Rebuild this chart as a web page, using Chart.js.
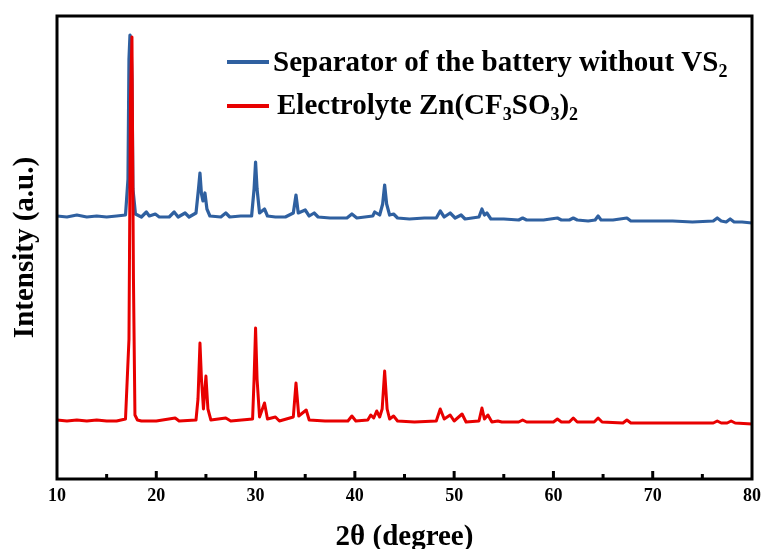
<!DOCTYPE html>
<html>
<head>
<meta charset="utf-8">
<script src="https://cdn.jsdelivr.net/npm/chart.js@4.4.1/dist/chart.umd.min.js"></script>
<style>
  html, body { margin: 0; padding: 0; background: #ffffff; }
  #wrap { width: 761px; height: 549px; position: relative; }
</style>
</head>
<body>
<div id="wrap"><canvas id="c" width="761" height="549"></canvas></div>
<script>
// ---- Data ----
const xTickLabels = [10, 20, 30, 40, 50, 60, 70, 80];
const seriesNames = ["Separator of the battery without VS2", "Electrolyte Zn(CF3SO3)2"];

// Separator of the battery without VS2 (blue, offset upper pattern)
const blueTheta = [10.0, 11.0, 12.0, 13.0, 14.0, 15.0, 16.0, 16.9, 17.15, 17.25, 17.35, 17.45, 17.55, 17.65, 17.9, 18.5, 19.0, 19.3, 19.9, 20.3,
  21.3, 21.8, 22.2, 22.9, 23.3, 24.0, 24.25, 24.4, 24.55, 24.7, 24.9, 25.1, 25.4, 26.5, 27.0, 27.4, 28.5, 29.6, 29.85, 30.0, 30.15,
  30.4, 30.9, 31.2, 32.0, 33.0, 33.8, 34.07, 34.3, 35.0, 35.4, 35.9, 36.3, 37.5, 39.2, 39.7, 40.2, 41.0, 41.8, 42.0, 42.5, 42.8,
  43.0, 43.2, 43.5, 43.9, 44.3, 45.5, 47.0, 48.2, 48.6, 49.0, 49.6, 50.1, 50.7, 51.1, 52.5, 52.8, 53.05, 53.3, 53.7, 55.0, 56.5,
  56.9, 57.3, 59.0, 60.4, 60.8, 61.6, 62.0, 62.4, 63.5, 64.2, 64.5, 64.8, 66.0, 67.4, 67.8, 70.0, 72.0, 74.0, 76.1, 76.5, 76.9,
  77.4, 77.8, 78.2, 79.0, 80.0];
const blueIntensity = [263, 262, 264, 262, 263, 262, 263, 264, 300, 420, 444, 440, 400, 290, 265, 262, 267, 263, 265, 262,
  262, 267, 262, 266, 262, 266, 290, 306, 285, 278, 286, 270, 263, 262, 266, 262, 263, 263, 290, 317, 290,
  266, 270, 263, 262, 262, 266, 284, 266, 269, 263, 266, 262, 261, 261, 265, 261, 262, 263, 267, 264, 275,
  294, 275, 264, 265, 261, 260, 261, 261, 268, 262, 266, 261, 264, 260, 262, 270, 264, 266, 260, 260, 259,
  261, 259, 259, 261, 259, 259, 261, 259, 258, 259, 263, 259, 259, 261, 258, 258, 258, 257, 258, 261, 258,
  257, 260, 257, 257, 256];

// Electrolyte Zn(CF3SO3)2 (red, lower pattern)
const redTheta = [10.0, 11.0, 12.0, 13.0, 14.0, 15.0, 16.0, 16.9, 17.25, 17.4, 17.55, 17.7, 17.85, 18.1, 18.5, 20.0, 21.9, 22.3, 24.0,
  24.2, 24.4, 24.55, 24.75, 25.0, 25.2, 25.5, 27.0, 27.5, 29.7, 29.85, 30.0, 30.15, 30.4, 30.9, 31.2, 32.0, 32.4, 33.8, 34.07,
  34.35, 35.1, 35.4, 37.0, 39.3, 39.7, 40.1, 41.3, 41.6, 41.9, 42.2, 42.5, 42.75, 43.0, 43.25, 43.5, 43.9, 44.3, 46.0, 48.2,
  48.6, 49.0, 49.6, 50.0, 50.8, 51.2, 52.5, 52.8, 53.05, 53.4, 53.8, 54.4, 54.8, 56.5, 56.9, 57.3, 60.0, 60.4, 60.8, 61.6, 62.0,
  62.4, 64.1, 64.5, 64.9, 67.0, 67.4, 67.8, 70.0, 73.0, 76.1, 76.5, 76.9, 77.5, 77.9, 78.3, 80.0];
const redIntensity = [59, 58, 59, 58, 59, 58, 58, 60, 140, 380, 442, 200, 64, 59, 58, 58, 61, 58, 59,
  80, 136, 100, 70, 103, 70, 59, 61, 58, 60, 100, 151, 100, 62, 76, 60, 62, 58, 62, 96,
  63, 69, 59, 58, 58, 63, 58, 59, 64, 61, 68, 62, 70, 108, 70, 60, 63, 58, 57, 58,
  70, 60, 64, 58, 65, 57, 58, 71, 60, 64, 57, 58, 57, 57, 59, 57, 57, 60, 57, 57, 61,
  57, 57, 61, 57, 56, 59, 56, 56, 56, 56, 58, 56, 56, 58, 56, 55];

const blueColor = "#2F60A0";
const redColor = "#E80000";
const FONT = '"Liberation Serif", "Times New Roman", serif';

function pts(xs, ys) { return xs.map((x, i) => ({ x: x, y: ys[i] })); }

// Frame + inward ticks
const framePlugin = {
  id: "frame",
  afterDatasetsDraw(chart) {
    const { ctx, chartArea: a, scales: { x } } = chart;
    ctx.save();
    ctx.strokeStyle = "#000";
    ctx.lineWidth = 3;
    for (let v = 15; v < 80; v += 5) {
      const px = x.getPixelForValue(v);
      const len = (v % 10 === 0) ? 8 : 5;
      ctx.beginPath();
      ctx.moveTo(px, a.bottom);
      ctx.lineTo(px, a.bottom - len);
      ctx.stroke();
    }
    ctx.lineWidth = 3;
    ctx.strokeRect(a.left, a.top, a.right - a.left, a.bottom - a.top);
    ctx.restore();
  }
};

// Legend with real subscripts
const legendPlugin = {
  id: "subLegend",
  afterDraw(chart) {
    const ctx = chart.ctx;
    const size = 29, sub = 18;
    const items = [
      { color: blueColor, lineY: 62, textX: 273, baseY: 71,
        parts: [["Separator of the battery without VS", 0], ["2", 1]] },
      { color: redColor, lineY: 106, textX: 277, baseY: 114,
        parts: [["Electrolyte Zn(CF", 0], ["3", 1], ["SO", 0], ["3", 1], [")", 0], ["2", 1]] }
    ];
    ctx.save();
    for (const it of items) {
      ctx.strokeStyle = it.color;
      ctx.lineWidth = 4;
      ctx.beginPath();
      ctx.moveTo(227, it.lineY);
      ctx.lineTo(269, it.lineY);
      ctx.stroke();
      let cx = it.textX;
      ctx.fillStyle = "#000";
      ctx.textBaseline = "alphabetic";
      ctx.textAlign = "left";
      for (const [t, isSub] of it.parts) {
        ctx.font = "bold " + (isSub ? sub : size) + "px " + FONT;
        ctx.fillText(t, cx, it.baseY + (isSub ? 6 : 0));
        cx += ctx.measureText(t).width;
      }
    }
    ctx.restore();
  }
};

new Chart(document.getElementById("c"), {
  type: "line",
  data: {
    datasets: [
      { label: seriesNames[0], data: pts(blueTheta, blueIntensity), borderColor: blueColor,
        borderWidth: 3.2, pointRadius: 0, tension: 0, borderJoinStyle: "round", borderCapStyle: "round", order: 2 },
      { label: seriesNames[1], data: pts(redTheta, redIntensity), borderColor: redColor,
        borderWidth: 3, pointRadius: 0, tension: 0, borderJoinStyle: "round", borderCapStyle: "round", order: 1 }
    ]
  },
  options: {
    responsive: false,
    animation: false,
    events: [],
    layout: { padding: { top: 16, right: 9, left: 0, bottom: 0 } },
    plugins: { legend: { display: false }, tooltip: { enabled: false } },
    scales: {
      x: {
        type: "linear", min: 10, max: 80,
        afterBuildTicks(scale) { scale.ticks = xTickLabels.map(v => ({ value: v })); },
        ticks: { color: "#000", padding: 7, maxRotation: 0, font: { family: FONT, weight: "bold", size: 18 } },
        grid: { display: false, drawTicks: false },
        border: { display: false },
        title: { display: true, text: "2\u03B8 (degree)", color: "#000",
          font: { family: FONT, weight: "bold", size: 29, lineHeight: 1 }, padding: { top: 0, bottom: -3 } },
        afterFit(scale) { scale.height = 70; scale.paddingLeft = 0; scale.paddingRight = 0; }
      },
      y: {
        type: "linear", min: 0, max: 463,
        ticks: { display: false },
        grid: { display: false, drawTicks: false },
        border: { display: false },
        title: { display: true, text: "Intensity (a.u.)", color: "#000",
          font: { family: FONT, weight: "bold", size: 29, lineHeight: 1 }, padding: { top: 11, bottom: 0 } },
        afterFit(scale) { scale.width = 57; }
      }
    }
  },
  plugins: [framePlugin, legendPlugin]
});
</script>
</body>
</html>
